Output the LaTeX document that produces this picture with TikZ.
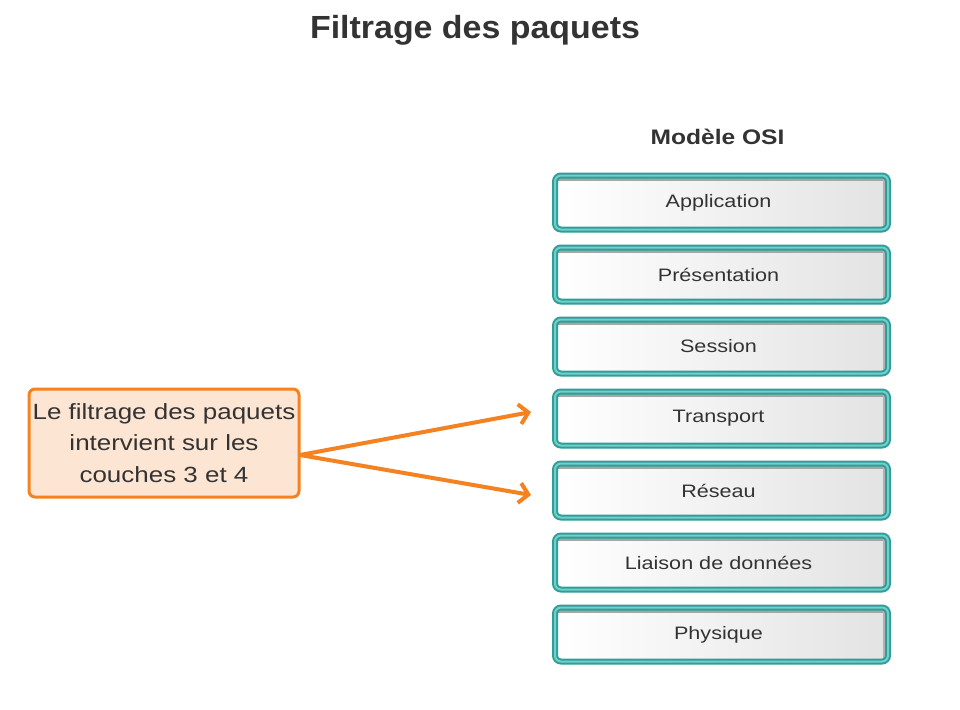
\documentclass[tikz,border=0pt]{standalone}
\usepackage{fontspec}
\setmainfont{Liberation Sans}
\newfontfamily\notefont[FakeStretch=1.18]{Liberation Sans}
\newfontfamily\layerfont[FakeStretch=1.2]{Liberation Sans}
\newfontfamily\osifont[FakeStretch=1.17]{Liberation Sans}
\newfontfamily\titlefont[FakeStretch=1.06]{Liberation Sans}
\usetikzlibrary{arrows.meta}
\definecolor{txt}{HTML}{333333}
\definecolor{tealdark}{HTML}{2E9E99}
\definecolor{teallight}{HTML}{74CFCA}
\definecolor{orng}{HTML}{F58220}
\definecolor{peach}{HTML}{FDE5D3}
\tikzset{
  layerbox/.style={minimum width=333pt, minimum height=54pt, inner sep=0pt,
    rounded corners=6pt, draw=tealdark, line width=2pt, double=teallight, double distance=2pt,
    left color=white, right color=black!11, text=txt,
    font=\layerfont\fontsize{18}{21}\selectfont,
    execute at end node={\hspace{6pt}},
    path picture={
      \draw[black!35, line width=2.5pt]
        ([yshift=-4pt]path picture bounding box.north west) -- ([yshift=-4pt]path picture bounding box.north east);
      \draw[black!30, line width=2.5pt]
        ([xshift=-4pt]path picture bounding box.north east) -- ([xshift=-4pt]path picture bounding box.south east);
    }},
  notebox/.style={minimum width=270pt, minimum height=108pt, inner sep=0pt,
    rounded corners=6pt, draw=orng, line width=3pt, fill=peach, text=txt, align=center,
    font=\notefont\fontsize{22}{31.5}\selectfont},
  callarrow/.style={orng, line width=4pt, -{Straight Barb[length=9pt,width=20pt]}}
}
\begin{document}
\begin{tikzpicture}[x=1pt,y=-1pt]
\useasboundingbox[fill=white] (0,0) rectangle (960,709);
\node[font=\titlefont\bfseries\fontsize{32}{36}\selectfont, text=txt] (title) at (475,30) {Filtrage des paquets};
\node[font=\osifont\bfseries\fontsize{21}{24}\selectfont, text=txt] (osi) at (717.5,137) {Modèle OSI};
\node[layerbox] (app)   at (721.5,202.5) {Application};
\node[layerbox] (pres)  at (721.5,274.5) {Présentation};
\node[layerbox] (sess)  at (721.5,346.5) {Session};
\node[layerbox] (trans) at (721.5,418.5) {Transport};
\node[layerbox] (res)   at (721.5,490.5) {Réseau};
\node[layerbox] (liais) at (721.5,562.5) {Liaison de données};
\node[layerbox] (phys)  at (721.5,634.5) {Physique};
\node[notebox] (note) at (164,443) {Le filtrage des paquets\\intervient sur les\\couches 3 et 4};
\coordinate (src) at (300,455);
\coordinate (tip3) at (531,412);
\coordinate (tip4) at (531,495);
\draw[callarrow] (src) -- (tip3);
\draw[callarrow] (src) -- (tip4);
\end{tikzpicture}
\end{document}
